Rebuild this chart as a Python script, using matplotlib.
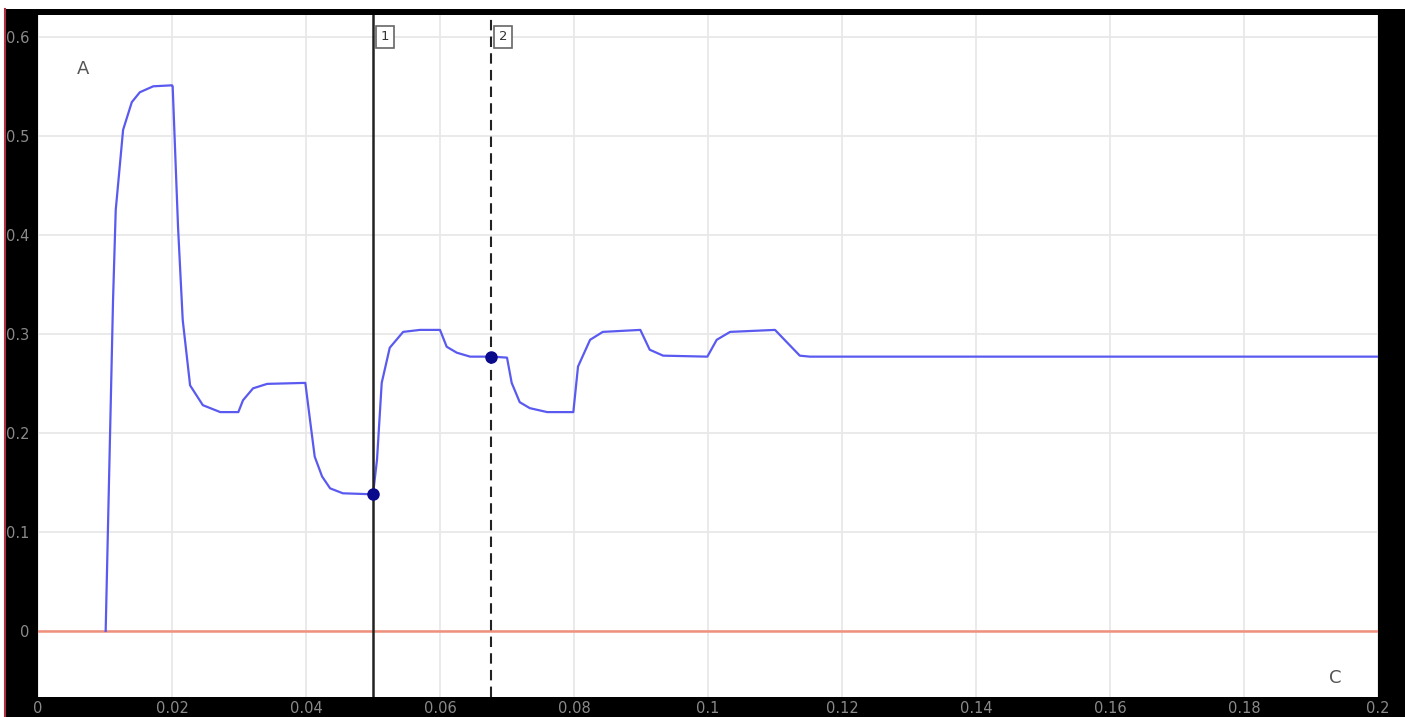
import numpy as np
import matplotlib.pyplot as plt
from matplotlib.patches import Rectangle
from matplotlib.lines import Line2D

# signal trace (time, value)
t = [0.0101, 0.0112, 0.0116, 0.0127, 0.0140, 0.0152, 0.0172, 0.0200,
     0.0201, 0.0209, 0.0216, 0.0227, 0.0246, 0.0272, 0.0299,
     0.0306, 0.0321, 0.0342, 0.0399,
     0.0406, 0.0413, 0.0424, 0.0436, 0.0455, 0.0500,
     0.0506, 0.0513, 0.0525, 0.0545, 0.0570, 0.0600,
     0.0610, 0.0625, 0.0645, 0.0678, 0.0700,
     0.0707, 0.0719, 0.0734, 0.0760, 0.0799,
     0.0806, 0.0824, 0.0843, 0.0899,
     0.0913, 0.0933, 0.0999,
     0.1013, 0.1033, 0.1100,
     0.1137, 0.1152, 0.2000]
v = [0.0, 0.334, 0.425, 0.506, 0.534, 0.544, 0.550, 0.551,
     0.550, 0.408, 0.314, 0.248, 0.228, 0.221, 0.221,
     0.233, 0.245, 0.2495, 0.2505,
     0.213, 0.176, 0.156, 0.144, 0.139, 0.138,
     0.173, 0.2505, 0.286, 0.302, 0.304, 0.304,
     0.287, 0.281, 0.277, 0.277, 0.276,
     0.2505, 0.231, 0.225, 0.221, 0.221,
     0.267, 0.294, 0.302, 0.304,
     0.284, 0.278, 0.277,
     0.294, 0.302, 0.304,
     0.278, 0.277, 0.277]

# cursors
cursor_t = [0.05, 0.0676]
cursor_v = [0.138, 0.277]
cursor_names = ["1", "2"]

xticks = [0, 0.02, 0.04, 0.06, 0.08, 0.1, 0.12, 0.14, 0.16, 0.18, 0.2]
xlabels = ["0", "0.02", "0.04", "0.06", "0.08", "0.1", "0.12", "0.14", "0.16", "0.18", "0.2"]
yticks = [0, 0.1, 0.2, 0.3, 0.4, 0.5, 0.6]
ylabels = ["0", "0.1", "0.2", "0.3", "0.4", "0.5", "0.6"]

W, H = 1405, 717
fig = plt.figure(figsize=(W / 100, H / 100), dpi=100, facecolor="black")
ax = fig.add_axes([38 / W, 1 - 697 / H, (1378 - 38) / W, (697 - 15) / H])
ax.set_facecolor("white")

ax.set_xlim(0, 0.2)
ax.set_ylim(-0.0667, 0.622)
ax.set_xticks(xticks)
ax.set_xticklabels(xlabels)
ax.set_yticks(yticks)
ax.set_yticklabels(ylabels)
ax.grid(True, color="#e8e8e8", linewidth=1.3)
ax.set_axisbelow(True)
ax.tick_params(colors="#8a8a8a", labelsize=10.5, length=0)
ax.tick_params(axis="x", pad=3)
ax.tick_params(axis="y", pad=6)
for s in ax.spines.values():
    s.set_visible(False)

# reference line at zero
ax.axhline(0, color="#f0907c", linewidth=1.8)

# signal
ax.plot(t, v, color="#5a5af0", linewidth=1.6)

# cursors
ax.axvline(cursor_t[0], color="#222222", linewidth=1.8)
ax.axvline(cursor_t[1], color="#222222", linewidth=1.5, linestyle=(0, (5, 3)))
ax.plot(cursor_t, cursor_v, "o", color="#0a0a8c", markersize=8)
for ct, name in zip(cursor_t, cursor_names):
    ax.text(ct + 0.0012, 0.6, name, fontsize=9.5, color="#333333", ha="left", va="center",
            bbox=dict(boxstyle="square,pad=0.35", facecolor="white", edgecolor="#666666", linewidth=1.2))

ax.text(0.0058, 0.567, "A", fontsize=13, color="#555555", ha="left", va="center")
ax.text(0.1945, -0.048, "C", fontsize=13, color="#555555", ha="right", va="center")

# screenshot border bits
fig.patches.append(Rectangle((0, 1 - 9 / H), 1, 9 / H, transform=fig.transFigure,
                             facecolor="white", edgecolor="none"))
fig.patches.append(Rectangle((0, 0), 4 / W, 1 - 9 / H, transform=fig.transFigure,
                             facecolor="white", edgecolor="none"))
fig.lines.append(Line2D([5 / W, 5 / W], [0, 1 - 9 / H], transform=fig.transFigure,
                        color="#b03040", linewidth=1.5))

fig.savefig("out.png", dpi=100, facecolor=fig.get_facecolor())
